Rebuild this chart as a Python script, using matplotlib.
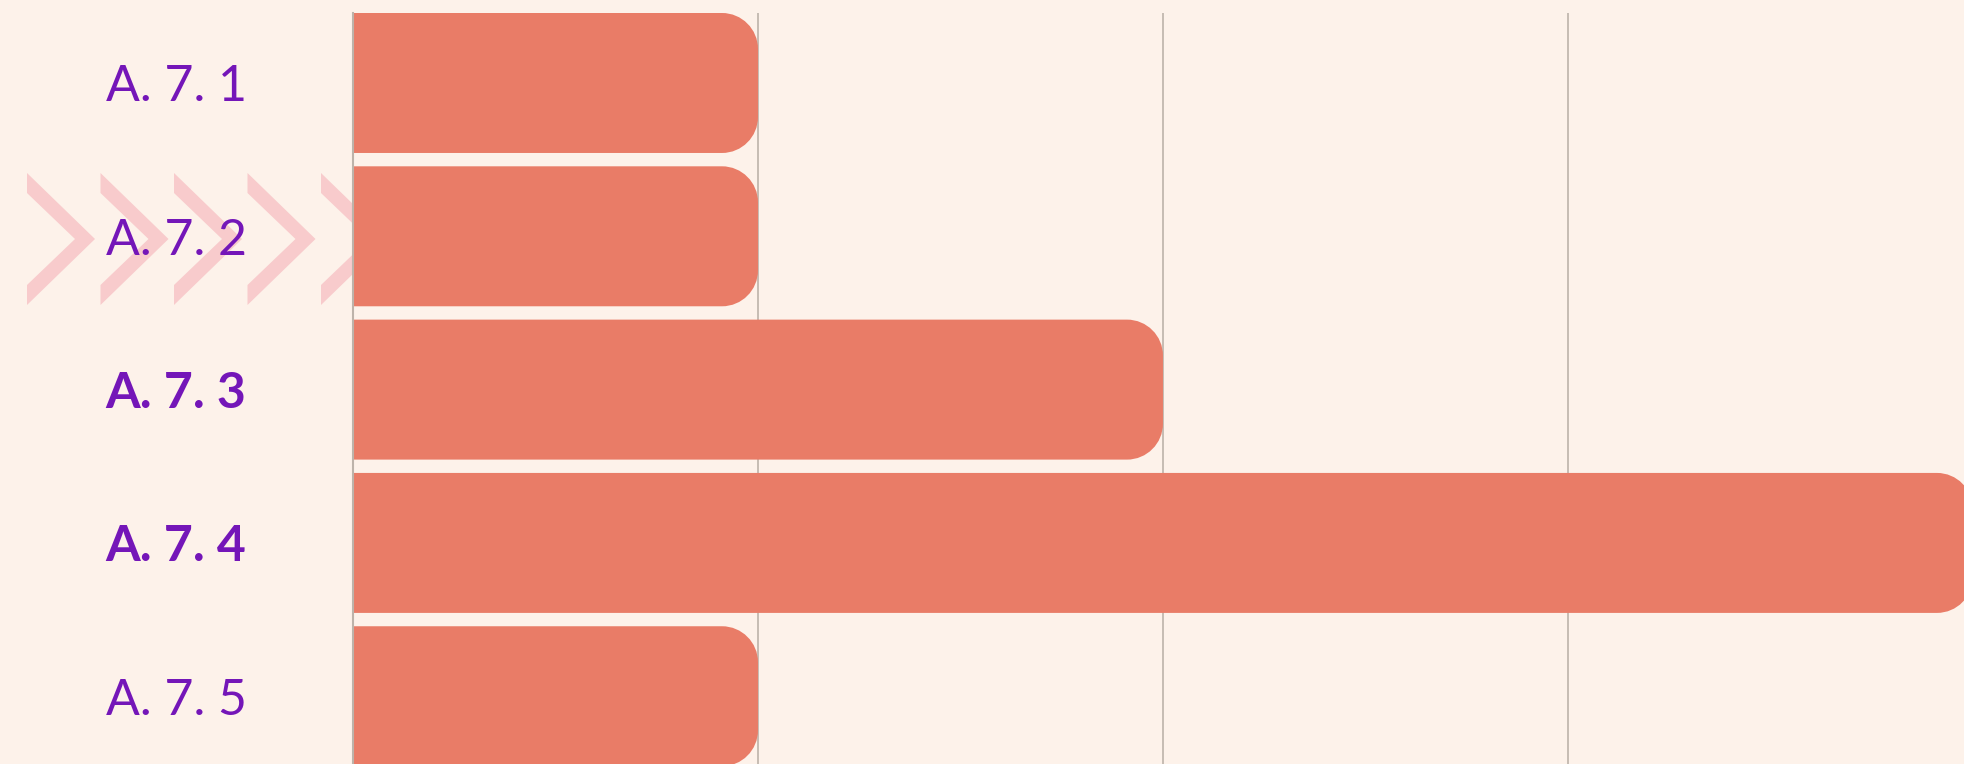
import matplotlib.pyplot as plt
from matplotlib.patches import PathPatch, Polygon
from matplotlib.path import Path

categories = ["A. 7. 1", "A. 7. 2", "A. 7. 3", "A. 7. 4", "A. 7. 5"]
values = [1, 1, 2, 4, 1]
bold = [False, False, True, True, False]

bg = "#fdf2ea"
bar_color = "#e97c67"
purple = "#7416b8"
grid_color = "#bdb3aa"
chevron_color = "#f8cbcc"

W, H = 1964, 764
fig = plt.figure(figsize=(W / 100, H / 100), dpi=100, facecolor=bg)

# decoration strip on the left (pixel coordinates)
deco = fig.add_axes([0, 0, 352 / W, 1], zorder=0)
deco.set_xlim(0, 352)
deco.set_ylim(H, 0)
deco.axis("off")
for k in range(5):
    x0 = 27 + k * 73.5
    pts = [(x0, 173), (x0 + 68, 239), (x0, 305), (x0, 285), (x0 + 48, 239), (x0, 193)]
    deco.add_patch(Polygon(pts, closed=True, color=chevron_color, lw=0))

ax = fig.add_axes([353 / W, 0, 1 - 353 / W, (H - 13) / H], zorder=1)
ax.set_facecolor(bg)

bar_h = 0.913
bars = ax.barh(range(len(values)), values, height=bar_h, color=bar_color)

ax.set_xlim(0, 3.978)
ax.set_ylim(4.442, -0.4565)

# rounded right ends, radius given in pixels
px_x = (W - 353) / 3.978
px_y = (H - 13) / (4.442 + 0.4565)
rx = 36 / px_x
ry = 36 / px_y
kap = 0.5523


def rounded_right(x, y, w, h):
    x1, y1 = x + w, y + h
    verts = [
        (x, y), (x1 - rx, y),
        (x1 - rx + kap * rx, y), (x1, y + ry - kap * ry), (x1, y + ry),
        (x1, y1 - ry),
        (x1, y1 - ry + kap * ry), (x1 - rx + kap * rx, y1), (x1 - rx, y1),
        (x, y1), (x, y),
    ]
    codes = [Path.MOVETO, Path.LINETO,
             Path.CURVE4, Path.CURVE4, Path.CURVE4,
             Path.LINETO,
             Path.CURVE4, Path.CURVE4, Path.CURVE4,
             Path.LINETO, Path.CLOSEPOLY]
    return Path(verts, codes)


for rect in bars:
    x, y = rect.get_x(), rect.get_y()
    w, h = rect.get_width(), rect.get_height()
    rect.remove()
    ax.add_patch(PathPatch(rounded_right(x, y, w, h), facecolor=bar_color,
                           edgecolor="none", zorder=2))

ax.set_xticks([1, 2, 3])
ax.set_xticklabels([])
ax.grid(axis="x", color=grid_color, lw=1.2)
ax.grid(axis="y", visible=False)
ax.set_axisbelow(True)
ax.tick_params(axis="x", length=0)

for s in ["top", "right", "bottom"]:
    ax.spines[s].set_visible(False)
ax.spines["left"].set_color(grid_color)
ax.spines["left"].set_linewidth(1.5)

ax.set_yticks(range(len(categories)))
ax.set_yticklabels(categories)
ax.tick_params(axis="y", length=0, pad=(353 - 176) * 0.72)
for lab, b in zip(ax.get_yticklabels(), bold):
    lab.set_horizontalalignment("center")
    lab.set_fontfamily("Lato")
    lab.set_fontsize(36)
    lab.set_color(purple)
    lab.set_fontweight("bold" if b else "normal")

fig.savefig("out.png", dpi=100, facecolor=bg)
